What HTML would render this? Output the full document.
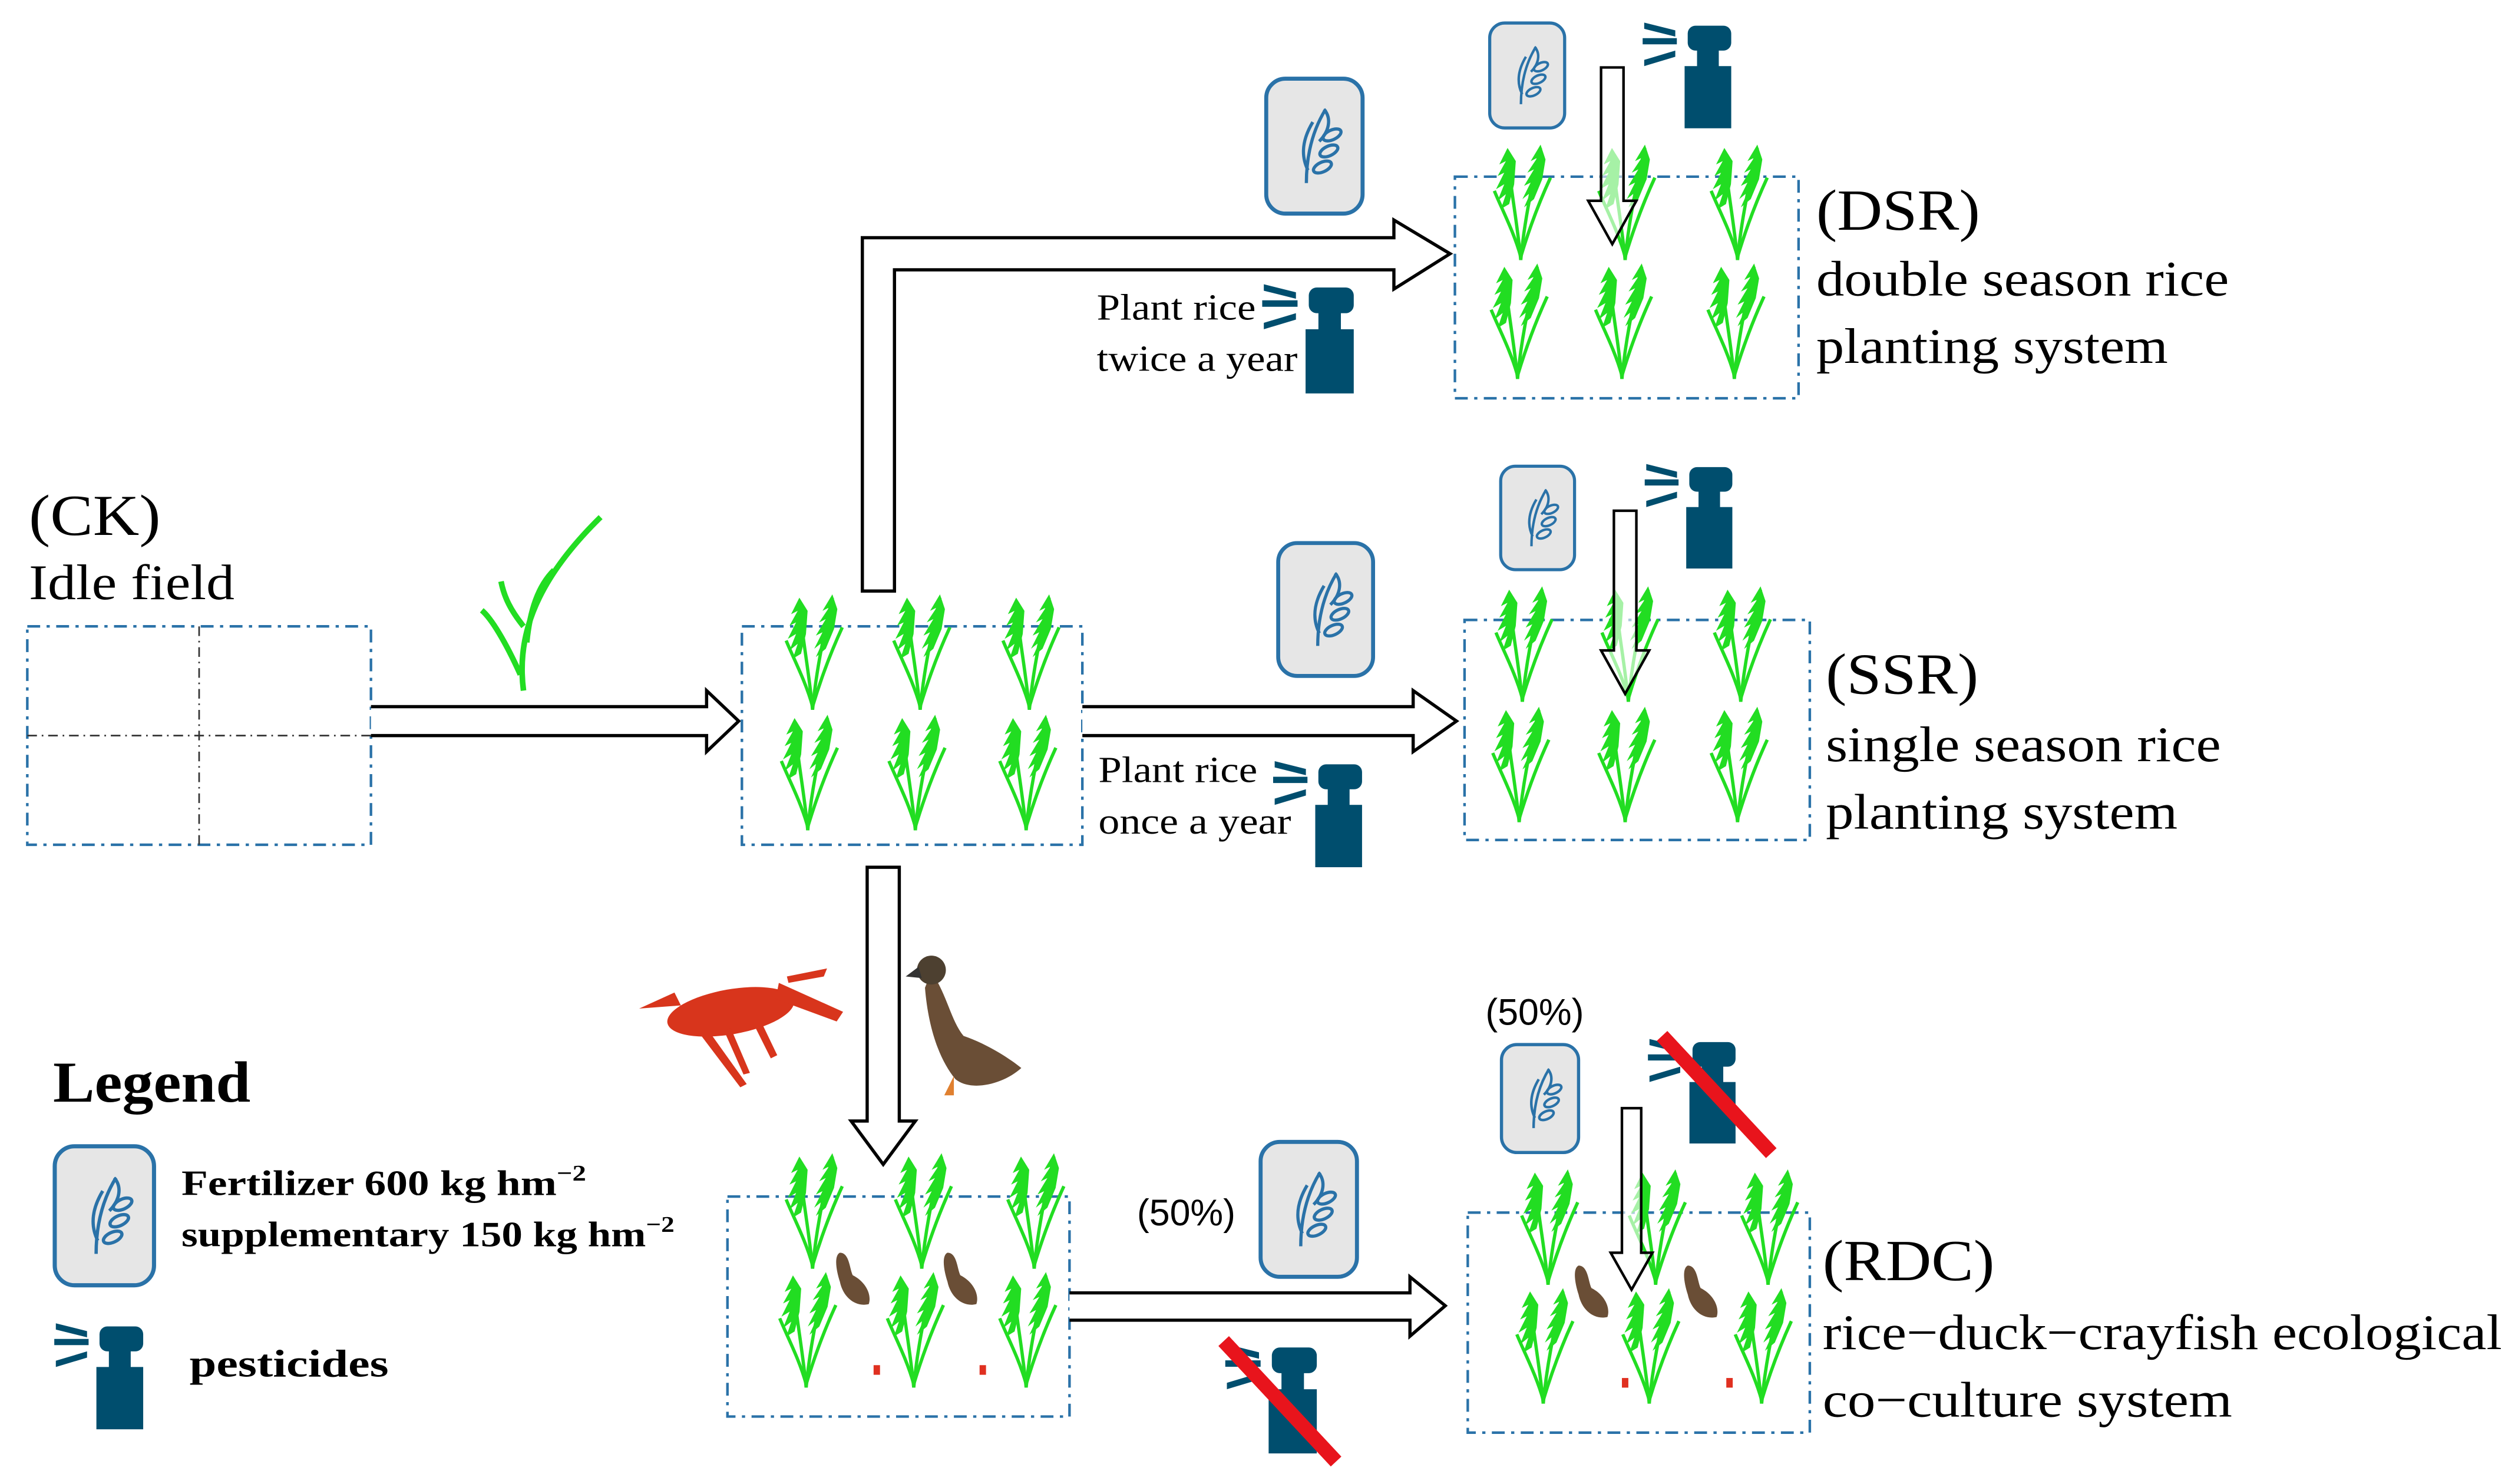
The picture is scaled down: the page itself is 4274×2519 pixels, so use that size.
<!DOCTYPE html>
<html><head><meta charset="utf-8"><style>
html,body{margin:0;padding:0;background:#fff;}
svg{display:block;}
text{font-family:"Liberation Serif",serif;fill:#000;}
</style></head><body>
<svg width="4274" height="2519" viewBox="0 0 1568 924" preserveAspectRatio="none" xmlns="http://www.w3.org/2000/svg">
<defs>
<symbol id="rice" viewBox="0 0 40 72">
<g fill="none" stroke="#22dd22" stroke-width="2">
<path d="M20 72 C18 50 14 30 12 8"/>
<path d="M20 72 C22 50 26 30 32 4"/>
<path d="M20 70 C26 50 32 35 38 22"/>
<path d="M20 70 C16 55 8 40 4 30"/>
</g>
<g fill="#22dd22">
<path d="M12 4 l-5 10 l4 -2 l-5 9 l4 -2 l-5 10 l5 -3 l-4 10 l5 -4 l-3 9 l5 -3 l3 -12 l1 -14 l-5 -8z"/>
<path d="M32 2 l-6 10 l4 -2 l-6 9 l4 -2 l-6 10 l4 -2 l-5 10 l5 -4 l-4 9 l6 -5 l5 -12 l2 -12z"/>
</g>
</symbol>
<symbol id="bag" viewBox="0 0 66 90">
<rect x="3" y="3" width="60" height="84" rx="12" fill="#e6e6e6" stroke="#2a72a8" stroke-width="2.5"/>
<g fill="none" stroke="#2a72a8" stroke-width="2">
<path d="M28 68 C28 50 32 35 40 22"/>
<path d="M29 60 C24 50 26 40 32 30"/>
<ellipse cx="44" cy="38" rx="6" ry="3" transform="rotate(-25 44 38)"/>
<ellipse cx="42" cy="48" rx="6" ry="3" transform="rotate(-25 42 48)"/>
<ellipse cx="38" cy="58" rx="6" ry="3" transform="rotate(-25 38 58)"/>
<path d="M39 22 C44 28 42 36 36 42"/>
</g>
</symbol>
<symbol id="spray" viewBox="0 0 62 70">
<g fill="#004e6e">
<rect x="30" y="30" width="30" height="40"/>
<rect x="38" y="18" width="14" height="14"/>
<rect x="32" y="4" width="28" height="16" rx="5"/>
<path d="M4 2 l20 5 l0 4 l-20 -5z"/>
<path d="M3 12 l22 0 l0 4 l-22 0z"/>
<path d="M4 26 l20 -6 l0 4 l-20 6z"/>
</g>
</symbol>
</defs>

<!-- CK -->
<text x="18" y="333" font-size="36" textLength="82" lengthAdjust="spacingAndGlyphs">(CK)</text>
<text x="18" y="373" font-size="31" textLength="128" lengthAdjust="spacingAndGlyphs">Idle field</text>
<rect x="17" y="390" width="214" height="136" fill="none" stroke="#2a72a8" stroke-width="1.6" stroke-dasharray="8 4 2 4"/>
<line x1="124" y1="390" x2="124" y2="526" stroke="#333" stroke-width="1" stroke-dasharray="6 3 1 3"/>
<line x1="17" y1="458" x2="231" y2="458" stroke="#333" stroke-width="1" stroke-dasharray="6 3 1 3"/>
<g fill="none" stroke="#22dd22" stroke-width="3.5">
<path d="M326 430 C322 400 330 365 374 322"/>
<path d="M324 420 C315 400 306 385 300 380"/>
<path d="M328 400 C330 380 335 365 345 355"/>
<path d="M326 390 C318 380 314 372 312 362"/>
</g>

<path d="M231 440 H440 V430 L460 449 L440 468 V458 H231" fill="#fff" stroke="#000" stroke-width="2"/>

<rect x="462" y="390" width="212" height="136" fill="none" stroke="#2a72a8" stroke-width="1.6" stroke-dasharray="8 4 2 4"/>
<use href="#rice" x="485" y="368" width="42" height="74"/>
<use href="#rice" x="552" y="368" width="42" height="74"/>
<use href="#rice" x="620" y="368" width="42" height="74"/>
<use href="#rice" x="482" y="443" width="42" height="74"/>
<use href="#rice" x="549" y="443" width="42" height="74"/>
<use href="#rice" x="618" y="443" width="42" height="74"/>

<path d="M537 368 V148 H868 V137 L903 158 L868 180 V168 H557 V368 Z" fill="#fff" stroke="#000" stroke-width="2"/>

<use href="#bag" x="785" y="46" width="67" height="90"/>
<use href="#bag" x="922" y="12" width="58" height="70"/>
<use href="#spray" x="1020" y="12" width="60" height="68"/>
<use href="#spray" x="783" y="175" width="62" height="70"/>
<text x="683" y="199" font-size="23" textLength="99" lengthAdjust="spacingAndGlyphs">Plant rice</text>
<text x="683" y="231" font-size="23" textLength="125" lengthAdjust="spacingAndGlyphs">twice a year</text>
<rect x="906" y="110" width="214" height="138" fill="none" stroke="#2a72a8" stroke-width="1.6" stroke-dasharray="8 4 2 4"/>
<use href="#rice" x="925" y="88" width="44" height="74"/>
<use href="#rice" x="990" y="88" width="44" height="74"/>
<use href="#rice" x="1060" y="88" width="44" height="74"/>
<use href="#rice" x="923" y="162" width="44" height="74"/>
<use href="#rice" x="988" y="162" width="44" height="74"/>
<use href="#rice" x="1058" y="162" width="44" height="74"/>
<path d="M997 42 H1011 V125 H1019 L1004 152 L989 125 H997 Z" fill="#fff" fill-opacity="0.6" stroke="#000" stroke-width="1.6"/>
<text x="1131" y="143" font-size="36" textLength="102" lengthAdjust="spacingAndGlyphs">(DSR)</text>
<text x="1131" y="184" font-size="31" textLength="257" lengthAdjust="spacingAndGlyphs">double season rice</text>
<text x="1131" y="226" font-size="31" textLength="219" lengthAdjust="spacingAndGlyphs">planting system</text>

<path d="M674 440 H880 V430 L907 449 L880 468 V458 H674" fill="#fff" stroke="#000" stroke-width="2"/>
<use href="#bag" x="793" y="334" width="65" height="91"/>
<use href="#spray" x="788" y="472" width="64" height="68"/>
<text x="684" y="487" font-size="23" textLength="99" lengthAdjust="spacingAndGlyphs">Plant rice</text>
<text x="684" y="519" font-size="23" textLength="120" lengthAdjust="spacingAndGlyphs">once a year</text>

<use href="#bag" x="930" y="288" width="55" height="69"/>
<use href="#spray" x="1020" y="287" width="62" height="67"/>
<rect x="912" y="386" width="215" height="137" fill="none" stroke="#2a72a8" stroke-width="1.6" stroke-dasharray="8 4 2 4"/>
<use href="#rice" x="926" y="363" width="44" height="74"/>
<use href="#rice" x="992" y="363" width="44" height="74"/>
<use href="#rice" x="1062" y="363" width="44" height="74"/>
<use href="#rice" x="924" y="438" width="44" height="74"/>
<use href="#rice" x="990" y="438" width="44" height="74"/>
<use href="#rice" x="1060" y="438" width="44" height="74"/>
<path d="M1005 318 H1019 V405 H1027 L1012 432 L997 405 H1005 Z" fill="#fff" fill-opacity="0.6" stroke="#000" stroke-width="1.6"/>
<text x="1137" y="432" font-size="36" textLength="95" lengthAdjust="spacingAndGlyphs">(SSR)</text>
<text x="1137" y="474" font-size="31" textLength="246" lengthAdjust="spacingAndGlyphs">single season rice</text>
<text x="1137" y="516" font-size="31" textLength="219" lengthAdjust="spacingAndGlyphs">planting system</text>

<path d="M540 540 H560 V698 H570 L550 725 L530 698 H540 Z" fill="#fff" stroke="#000" stroke-width="2"/>
<!-- crayfish -->
<g fill="#d8351c">
<ellipse cx="455" cy="630" rx="40" ry="14" transform="rotate(-10 455 630)"/>
<path d="M398 628 l22 -10 l4 8 z"/>
<path d="M485 612 l40 18 l-4 6 l-38 -14z"/>
<path d="M490 608 l25 -5 l-2 5 l-22 4z"/>
<path d="M440 640 l25 35 l-4 2 l-25 -33z"/>
<path d="M455 640 l12 28 l-4 1 l-12 -27z"/>
<path d="M472 632 l12 25 l-4 2 l-12 -24z"/>
</g>
<!-- duck -->
<g>
<path d="M580 605 C590 620 592 635 600 645 C615 650 630 660 636 665 C625 675 605 680 595 672 C585 660 578 640 576 615 Z" fill="#6a4e36"/>
<circle cx="580" cy="604" r="9" fill="#4d4030"/>
<path d="M572 602 l-8 6 l10 1z" fill="#333"/>
<path d="M594 670 l0 12 l-6 0z" fill="#e08030"/>
</g>

<rect x="453" y="745" width="213" height="137" fill="none" stroke="#2a72a8" stroke-width="1.6" stroke-dasharray="8 4 2 4"/>
<use href="#rice" x="485" y="716" width="42" height="74"/>
<use href="#rice" x="553" y="716" width="42" height="74"/>
<use href="#rice" x="623" y="716" width="42" height="74"/>
<use href="#rice" x="481" y="790" width="42" height="74"/>
<use href="#rice" x="548" y="790" width="42" height="74"/>
<use href="#rice" x="618" y="790" width="42" height="74"/>
<g fill="#6a4e36"><path d="M523 780 c6 0 6 10 8 14 c8 4 12 12 10 18 c-8 2 -16 -4 -18 -14 c-2 -6 -4 -16 0 -18z"/><path d="M590 780 c6 0 6 10 8 14 c8 4 12 12 10 18 c-8 2 -16 -4 -18 -14 c-2 -6 -4 -16 0 -18z"/></g>
<g fill="#e03020"><rect x="544" y="850" width="4" height="6"/><rect x="610" y="850" width="4" height="6"/></g>

<path d="M666 805 H878 V795 L900 813 L878 832 V822 H666" fill="#fff" stroke="#000" stroke-width="2"/>
<text x="708" y="763" font-size="23" style="font-family:'Liberation Sans',sans-serif">(50%)</text>
<use href="#bag" x="782" y="708" width="66" height="90"/>
<use href="#spray" x="760" y="835" width="62" height="70"/>
<line x1="762" y1="835" x2="832" y2="910" stroke="#e8141c" stroke-width="9"/>

<text x="925" y="638" font-size="23" style="font-family:'Liberation Sans',sans-serif">(50%)</text>
<use href="#bag" x="928" y="648" width="62" height="72"/>
<use href="#spray" x="1022" y="645" width="62" height="67"/>
<line x1="1035" y1="645" x2="1103" y2="718" stroke="#e8141c" stroke-width="9"/>
<rect x="914" y="755" width="213" height="137" fill="none" stroke="#2a72a8" stroke-width="1.6" stroke-dasharray="8 4 2 4"/>
<use href="#rice" x="943" y="726" width="42" height="74"/>
<use href="#rice" x="1010" y="726" width="42" height="74"/>
<use href="#rice" x="1080" y="726" width="42" height="74"/>
<use href="#rice" x="940" y="800" width="42" height="74"/>
<use href="#rice" x="1006" y="800" width="42" height="74"/>
<use href="#rice" x="1076" y="800" width="42" height="74"/>
<g fill="#6a4e36"><path d="M983 788 c6 0 6 10 8 14 c8 4 12 12 10 18 c-8 2 -16 -4 -18 -14 c-2 -6 -4 -16 0 -18z"/><path d="M1051 788 c6 0 6 10 8 14 c8 4 12 12 10 18 c-8 2 -16 -4 -18 -14 c-2 -6 -4 -16 0 -18z"/></g>
<g fill="#e03020"><rect x="1010" y="858" width="4" height="6"/><rect x="1075" y="858" width="4" height="6"/></g>
<path d="M1010 690 H1022 V780 H1029 L1016 803 L1003 780 H1010 Z" fill="#fff" fill-opacity="0.6" stroke="#000" stroke-width="1.6"/>
<text x="1135" y="797" font-size="36" textLength="107" lengthAdjust="spacingAndGlyphs">(RDC)</text>
<text x="1135" y="840" font-size="31" textLength="423" lengthAdjust="spacingAndGlyphs">rice−duck−crayfish ecological</text>
<text x="1135" y="882" font-size="31" textLength="255" lengthAdjust="spacingAndGlyphs">co−culture system</text>

<text x="33" y="686" font-size="36" font-weight="bold" textLength="123" lengthAdjust="spacingAndGlyphs">Legend</text>
<use href="#bag" x="31" y="710" width="68" height="94"/>
<text x="113" y="744" font-size="22" font-weight="bold" textLength="252" lengthAdjust="spacingAndGlyphs">Fertilizer  600 kg hm<tspan font-size="14" dy="-9">−2</tspan></text>
<text x="113" y="776" font-size="22" font-weight="bold" textLength="307" lengthAdjust="spacingAndGlyphs">supplementary 150 kg hm<tspan font-size="14" dy="-9">−2</tspan></text>
<use href="#spray" x="30" y="822" width="62" height="68"/>
<text x="118" y="857" font-size="24" font-weight="bold" textLength="124" lengthAdjust="spacingAndGlyphs">pesticides</text>
</svg>
</body></html>
